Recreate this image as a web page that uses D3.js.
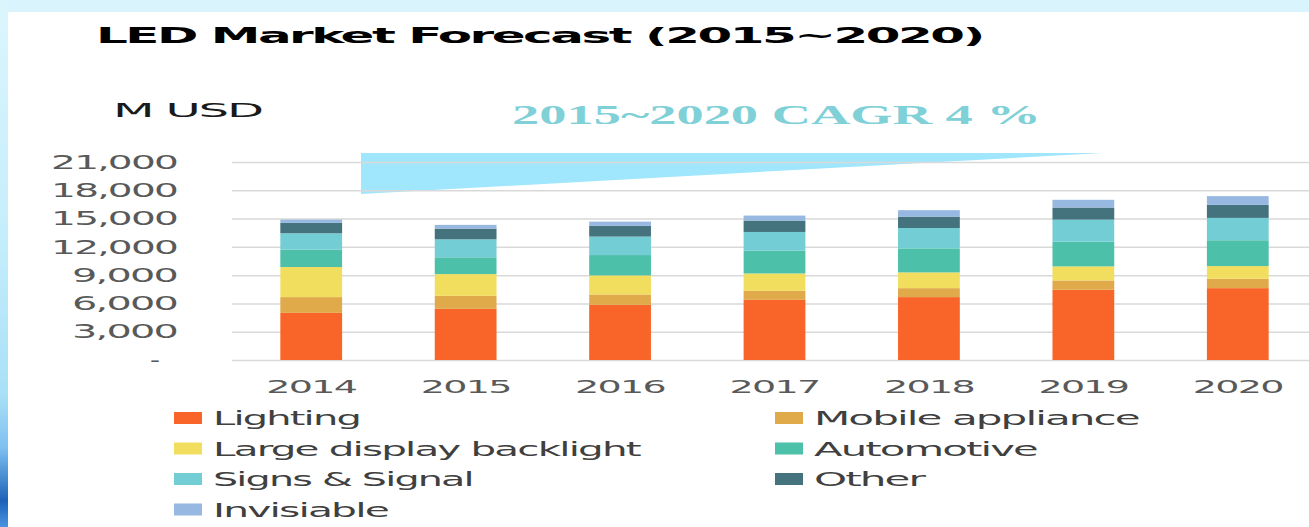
<!DOCTYPE html>
<html lang="en">
<head>
<meta charset="utf-8">
<title>LED Market Forecast</title>
<script src="https://cdn.jsdelivr.net/npm/d3@7"></script>
<style>
  body { margin: 0; background: #fff; }
  text { font-family: "DejaVu Sans", Verdana, sans-serif; }
</style>
</head>
<body>
<script>
// data (M USD)
var years = ["2014", "2015", "2016", "2017", "2018", "2019", "2020"];
var series = ["Lighting", "Mobile appliance", "Large display backlight", "Automotive", "Signs & Signal", "Other", "Invisiable"];
var lighting   = [5000, 5430, 5850, 6380, 6670, 7450, 7620];
var mobile     = [1670, 1380, 1100,  960,  950,  990, 1000];
var largeDisp  = [3190, 2300, 2020, 1840, 1670, 1490, 1340];
var automotive = [1840, 1780, 2160, 2420, 2550, 2620, 2740];
var signs      = [1740, 1910, 1960, 1980, 2160, 2340, 2370];
var other      = [1100, 1140, 1130, 1210, 1210, 1280, 1380];
var invisiable = [ 350,  390,  460,  530,  680,  820,  930];
var yTicks = [0, 3000, 6000, 9000, 12000, 15000, 18000, 21000];
var colors = ["#f96428", "#e0a94a", "#f2de5e", "#4dc0aa", "#72cdd4", "#44737e", "#97b8e0"];

var w = 1309, h = 527;

// the source picture is stretched sideways: tighten letters a bit, then widen glyphs to a target width
function stretch(node, target, tight) {
  var t = d3.select(node);
  if (tight !== 0) t.style("letter-spacing", (tight || -0.045) + "em");
  var nat = node.getComputedTextLength();
  var sx = target / nat;
  var ax = +t.attr("x") || 0;
  t.attr("transform", "translate(" + (ax * (1 - sx)) + ",0) scale(" + sx + ",1)");
}

var svg = d3.select("body").append("svg")
  .attr("width", w)
  .attr("height", h);

// background frame
var defs = svg.append("defs");
var lg = defs.append("linearGradient").attr("id", "side")
  .attr("x1", 0).attr("y1", 0).attr("x2", 0).attr("y2", 1);
[["0%", "#dcf5fc"], ["45%", "#c4eefb"], ["75%", "#a9e0f7"], ["85%", "#7ec0f0"], ["95%", "#1d62b8"], ["100%", "#4a94e0"]]
  .forEach(function(s) { lg.append("stop").attr("offset", s[0]).attr("stop-color", s[1]); });
svg.append("rect").attr("width", w).attr("height", h).attr("fill", "#d9f4fc");
svg.append("rect").attr("width", 8).attr("height", h).attr("fill", "url(#side)");
svg.append("rect").attr("x", 8).attr("y", 12).attr("width", w - 8).attr("height", h - 12).attr("fill", "#fff");

// scales
var x = d3.scaleBand().domain(years).range([234, 1315]).paddingInner(0.6).paddingOuter(0.3);
var y = d3.scaleLinear().domain([0, 21000]).range([360, 162]);

// CAGR wedge
svg.append("polygon")
  .attr("points", "361,153 1103,153 361,194")
  .attr("fill", "#a0e6fc");

// y axis + gridlines
var yAxis = d3.axisLeft(y)
  .tickValues(yTicks)
  .tickSizeInner(-(w - 232))
  .tickSizeOuter(0)
  .tickPadding(55)
  .tickFormat(function(d) { return d === 0 ? "-" : d3.format(",")(d); });

var gy = svg.append("g").attr("transform", "translate(232,0)").call(yAxis);
gy.select(".domain").remove();
gy.selectAll("line").attr("stroke", "#d9d9d9").attr("stroke-width", 1.5);
gy.selectAll("text")
  .attr("fill", "#595959")
  .attr("font-size", "19.5px")
  .attr("font-family", "DejaVu Sans, sans-serif")
  .each(function(d) {
    var t = d3.select(this);
    if (d === 0) { t.attr("x", -72); stretch(this, 10, 0); return; }
    stretch(this, t.text().length === 6 ? 126 : 105);
  });

// stacked bars
var table = years.map(function(yr, i) {
  return {year: yr, s0: lighting[i], s1: mobile[i], s2: largeDisp[i], s3: automotive[i],
          s4: signs[i], s5: other[i], s6: invisiable[i]};
});
var keys = ["s0", "s1", "s2", "s3", "s4", "s5", "s6"];
var stacked = d3.stack().keys(keys)(table);

svg.append("g").selectAll("g")
  .data(stacked)
  .enter().append("g")
  .attr("fill", function(d, i) { return colors[i]; })
  .selectAll("rect")
  .data(function(d) { return d; })
  .enter().append("rect")
  .attr("x", function(d) { return x(d.data.year); })
  .attr("y", function(d) { return y(d[1]); })
  .attr("width", x.bandwidth())
  .attr("height", function(d) { return y(d[0]) - y(d[1]); });

// x axis labels
var xAxis = d3.axisBottom(x).tickSize(0).tickPadding(20);
var gx = svg.append("g").attr("transform", "translate(0,360)").call(xAxis);
gx.select(".domain").remove();
gx.selectAll("text")
  .attr("fill", "#595959")
  .attr("font-size", "18px")
  .attr("font-family", "DejaVu Sans, sans-serif")
  .each(function() { stretch(this, 90); });

// titles
svg.append("text")
  .attr("x", 96).attr("y", 43)
  .attr("font-size", "22px").attr("font-weight", "bold")
  .attr("fill", "#000")
  .text("LED Market Forecast (2015~2020)")
  .each(function() { stretch(this, 887, -0.05); });

svg.append("text")
  .attr("x", 113).attr("y", 117)
  .attr("font-size", "20px")
  .attr("fill", "#1a1a1a")
  .text("M USD")
  .each(function() { stretch(this, 149); });

svg.append("text")
  .attr("x", 512).attr("y", 124)
  .attr("font-size", "27px").attr("font-weight", "bold")
  .style("font-family", "'Liberation Serif', serif")
  .attr("fill", "#80d0d8")
  .text("2015~2020 CAGR 4 %")
  .each(function() { stretch(this, 529, 0); });

// legend
var legendWidths = [147, 325, 427, 223, 260, 110, 175];
var legend = svg.append("g").selectAll("g")
  .data(series)
  .enter().append("g")
  .attr("transform", function(d, i) {
    return "translate(" + (i % 2 ? 775 : 174) + "," + (418 + Math.floor(i / 2) * 30.5) + ")";
  });
legend.append("rect")
  .attr("x", 0).attr("y", -6)
  .attr("width", 28).attr("height", 12)
  .attr("fill", function(d, i) { return colors[i]; });
legend.append("text")
  .attr("x", 39).attr("y", 7)
  .attr("font-size", "20px")
  .attr("fill", "#404040")
  .text(function(d) { return d; })
  .each(function(d, i) { stretch(this, legendWidths[i]); });
</script>
</body>
</html>
